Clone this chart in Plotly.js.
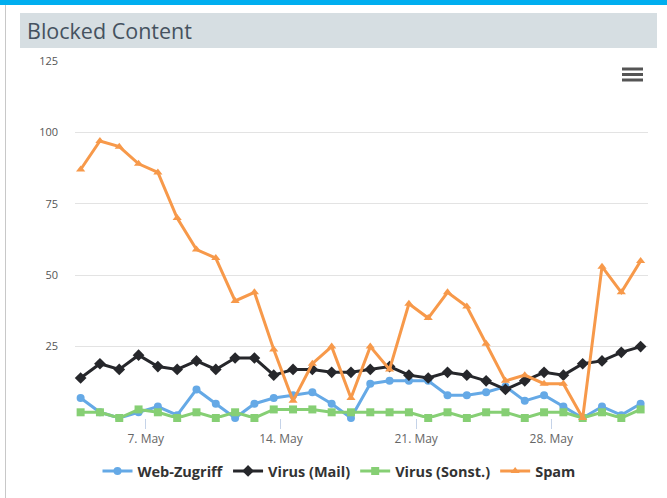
<!DOCTYPE html>
<html>
<head>
<meta charset="utf-8">
<script src="https://cdn.plot.ly/plotly-3.0.1.min.js"></script>
<style>
  html, body { margin: 0; padding: 0; background: #ffffff; }
  #chart { width: 667px; height: 498px; }
</style>
</head>
<body>
<div id="chart"></div>
<script>
// ---- data ----
var dates = [
  '2017-05-04','2017-05-05','2017-05-06','2017-05-07','2017-05-08','2017-05-09',
  '2017-05-10','2017-05-11','2017-05-12','2017-05-13','2017-05-14','2017-05-15',
  '2017-05-16','2017-05-17','2017-05-18','2017-05-19','2017-05-20','2017-05-21',
  '2017-05-22','2017-05-23','2017-05-24','2017-05-25','2017-05-26','2017-05-27',
  '2017-05-28','2017-05-29','2017-05-30','2017-05-31','2017-06-01','2017-06-02'
];
var webZugriff   = [7, 2, 0, 2, 4, 1, 10, 5, 0, 5, 7, 8, 9, 5, 0, 12, 13, 13, 13, 8, 8, 9, 11, 6, 8, 4, 0, 4, 1, 5];
var virusMail    = [14, 19, 17, 22, 18, 17, 20, 17, 21, 21, 15, 17, 17, 16, 16, 17, 18, 15, 14, 16, 15, 13, 10, 13, 16, 15, 19, 20, 23, 25];
var virusSonst   = [2, 2, 0, 3, 2, 0, 2, 0, 2, 0, 3, 3, 3, 2, 2, 2, 2, 2, 0, 2, 0, 2, 2, 0, 2, 2, 0, 2, 0, 3];
var spam         = [87, 97, 95, 89, 86, 70, 59, 56, 41, 44, 24, 6, 19, 25, 7, 25, 17, 40, 35, 44, 39, 26, 13, 15, 12, 12, 0, 53, 44, 55];

var seriesNames  = ['Web-Zugriff', 'Virus (Mail)', 'Virus (Sonst.)', 'Spam'];
var yTickVals    = [25, 50, 75, 100, 125];
var xTickVals    = ['2017-05-07 09:00', '2017-05-14 09:00', '2017-05-21 09:00', '2017-05-28 09:00'];
var xTickText    = ['7. May', '14. May', '21. May', '28. May'];

// ---- styles ----
var colors  = ['#65a9e6', '#26272b', '#86cf74', '#f7994a'];
var symbols = ['circle', 'diamond', 'square', 'triangle-up'];
var values  = [webZugriff, virusMail, virusSonst, spam];

var traces = values.map(function (v, i) {
  return {
    type: 'scatter',
    mode: 'lines+markers',
    name: seriesNames[i],
    x: dates,
    y: v,
    cliponaxis: false,
    line: { color: colors[i], width: 3 },
    marker: { color: colors[i], symbol: symbols[i], size: i === 1 ? 9 : 8 }
  };
});

// pixel helpers for decorations (plot area: l=75, r=648, t=61, b=418)
var L = 75, R = 648, T = 61, B = 418;
function px(x) { return (x - L) / (R - L); }
function py(y) { return (B - y) / (B - T); }

var shapes = [
  { type: 'rect', xref: 'paper', yref: 'paper', x0: px(0), x1: px(667), y0: py(5), y1: py(0),
    fillcolor: '#00aeef', line: { width: 0 }, layer: 'below' },
  { type: 'rect', xref: 'paper', yref: 'paper', x0: px(20), x1: px(657), y0: py(48), y1: py(13),
    fillcolor: '#d6dee2', line: { width: 0 }, layer: 'below' },
  { type: 'line', xref: 'paper', yref: 'paper', x0: px(5.5), x1: px(5.5), y0: py(498), y1: py(5),
    line: { color: '#c8c8c8', width: 1 }, layer: 'below' },
  { type: 'rect', xref: 'paper', yref: 'paper', x0: px(622), x1: px(643), y0: py(70.5), y1: py(67.5),
    fillcolor: '#555555', line: { width: 0 } },
  { type: 'rect', xref: 'paper', yref: 'paper', x0: px(622), x1: px(643), y0: py(76), y1: py(73),
    fillcolor: '#555555', line: { width: 0 } },
  { type: 'rect', xref: 'paper', yref: 'paper', x0: px(622), x1: px(643), y0: py(81.5), y1: py(78.5),
    fillcolor: '#555555', line: { width: 0 } }
];

var layout = {
  width: 667,
  height: 498,
  margin: { l: L, r: 667 - R, t: T, b: 498 - B, pad: 0, autoexpand: false },
  paper_bgcolor: '#ffffff',
  plot_bgcolor: '#ffffff',
  font: { family: 'Open Sans, Arial, sans-serif', color: '#555555' },
  title: {
    text: 'Blocked Content',
    xref: 'container', yref: 'container',
    x: 27 / 667, xanchor: 'left',
    y: 1 - 31 / 498, yanchor: 'middle',
    font: { family: 'Open Sans, Arial, sans-serif', size: 21.5, color: '#45525f' }
  },
  xaxis: {
    type: 'date',
    range: ['2017-05-03 17:00', '2017-06-02 09:10'],
    tickvals: xTickVals,
    ticktext: xTickText,
    tickangle: 0,
    ticks: 'outside',
    ticklen: 10,
    tickwidth: 1,
    tickcolor: '#c5d3e8',
    showgrid: false,
    showline: false,
    zeroline: false,
    tickfont: { size: 12, color: '#666666' }
  },
  yaxis: {
    range: [0, 125],
    tickvals: yTickVals,
    showgrid: true,
    gridcolor: '#e3e3e3',
    gridwidth: 1,
    zeroline: false,
    showline: false,
    ticks: '',
    ticklabelstandoff: 16,
    tickfont: { size: 11, color: '#555555' }
  },
  legend: {
    orientation: 'h',
    x: px(339), xanchor: 'center',
    y: py(471), yanchor: 'middle',
    itemwidth: 30,
    font: { size: 14.5, color: '#333333', weight: 'bold' }
  },
  showlegend: true,
  shapes: shapes
};

Plotly.newPlot('chart', traces, layout, { displayModeBar: false, staticPlot: true });
</script>
</body>
</html>
